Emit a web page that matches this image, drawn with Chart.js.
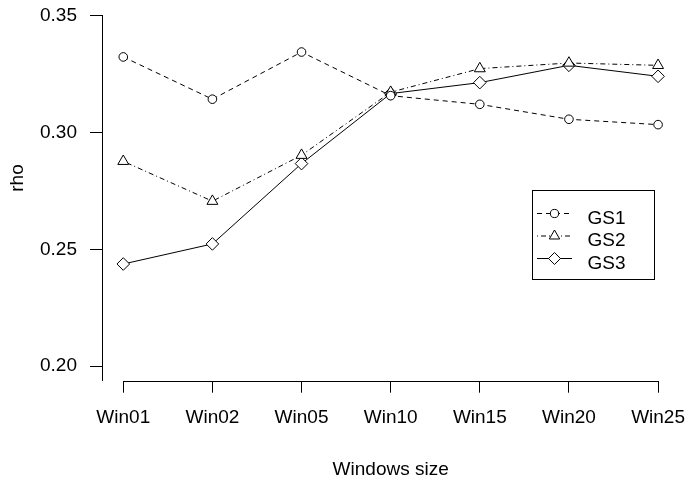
<!DOCTYPE html>
<html>
<head>
<meta charset="utf-8">
<script src="https://cdn.jsdelivr.net/npm/chart.js@4/dist/chart.umd.min.js"></script>
<style>
  html, body { margin: 0; padding: 0; background: #fff; }
  #wrap { width: 699px; height: 482px; }
</style>
</head>
<body>
<div id="wrap"><canvas id="c" width="699" height="482"></canvas></div>
<script>
// ---- data ----
const categories = ["Win01", "Win02", "Win05", "Win10", "Win15", "Win20", "Win25"];
const gs1 = [0.3324, 0.3143, 0.3345, 0.3158, 0.3121, 0.3057, 0.3034];
const gs2 = [0.2877, 0.2706, 0.2903, 0.3173, 0.3274, 0.3298, 0.3288];
const gs3 = [0.2437, 0.2523, 0.2867, 0.3167, 0.3214, 0.3288, 0.3241];
const seriesNames = ["GS1", "GS2", "GS3"];
const yTicks = [0.20, 0.25, 0.30, 0.35];
const xTitle = "Windows size";
const yTitle = "rho";

const FONT = "'Liberation Sans', Arial, Helvetica, sans-serif";
const FS = 19;

function pts(arr) { return arr.map((v, i) => ({ x: i, y: v })); }

const datasets = [
  { label: seriesNames[0], data: pts(gs1), borderDash: [5, 4], pointStyle: 'circle', pointRadius: 4.3 },
  { label: seriesNames[1], data: pts(gs2), borderDash: [1, 3, 5, 3], pointStyle: 'triangle', pointRadius: 6.3 },
  { label: seriesNames[2], data: pts(gs3), borderDash: [], pointStyle: 'rectRot', pointRadius: 6.3 }
].map(d => Object.assign({
  borderColor: '#000', borderWidth: 1, backgroundColor: 'rgba(0,0,0,0)',
  pointBackgroundColor: '#fff', pointBorderColor: '#000', pointBorderWidth: 1,
  pointHoverRadius: d.pointRadius, tension: 0, fill: false, clip: false
}, d));

const extras = {
  id: 'extras',
  afterDraw(chart) {
    const ctx = chart.ctx;
    const xs = chart.scales.x;
    const area = chart.chartArea;
    ctx.save();
    // x axis line from first to last category
    ctx.strokeStyle = '#000';
    ctx.lineWidth = 1;
    ctx.beginPath();
    const yb = Math.round(area.bottom) + 0.5;
    ctx.moveTo(Math.round(xs.getPixelForValue(0)) + 0.5, yb);
    ctx.lineTo(Math.round(xs.getPixelForValue(categories.length - 1)) + 0.5, yb);
    ctx.stroke();

    // axis titles
    ctx.fillStyle = '#000';
    ctx.font = FS + 'px ' + FONT;
    ctx.textAlign = 'center';
    ctx.textBaseline = 'alphabetic';
    ctx.fillText(xTitle, xs.getPixelForValue((categories.length - 1) / 2), 475);
    ctx.save();
    ctx.translate(23, 178);
    ctx.rotate(-Math.PI / 2);
    ctx.fillText(yTitle, 0, 0);
    ctx.restore();

    // legend
    const bx = 532.5, by = 190.5, bw = 122, bh = 89;
    ctx.strokeStyle = '#000';
    ctx.lineWidth = 1;
    ctx.strokeRect(bx, by, bw, bh);
    const rowY = [213.5, 236, 258.5];
    chart.data.datasets.forEach((ds, i) => {
      const y = rowY[i];
      ctx.save();
      ctx.strokeStyle = ds.borderColor;
      ctx.lineWidth = ds.borderWidth;
      ctx.setLineDash(ds.borderDash || []);
      ctx.beginPath();
      ctx.moveTo(537, y);
      ctx.lineTo(572, y);
      ctx.stroke();
      ctx.restore();
      ctx.save();
      ctx.fillStyle = '#fff';
      ctx.strokeStyle = '#000';
      ctx.lineWidth = 1;
      ctx.setLineDash([]);
      Chart.helpers.drawPoint(ctx, {
        pointStyle: ds.pointStyle, radius: ds.pointRadius * 0.95, borderWidth: 1, rotation: 0
      }, 554.5, y);
      ctx.restore();
      ctx.fillStyle = '#000';
      ctx.font = FS + 'px ' + FONT;
      ctx.textAlign = 'left';
      ctx.textBaseline = 'alphabetic';
      ctx.fillText(ds.label, 587.5, y + 10);
    });
    ctx.restore();
  }
};

new Chart(document.getElementById('c'), {
  type: 'line',
  data: { datasets },
  options: {
    responsive: false,
    animation: false,
    events: [],
    layout: { padding: { left: 0, top: 13, right: 29.7, bottom: 0 } },
    plugins: { legend: { display: false }, tooltip: { enabled: false }, title: { display: false } },
    scales: {
      x: {
        type: 'linear',
        min: -0.2386,
        max: categories.length - 1,
        afterFit(scale) { scale.height = 101.3; },
        afterBuildTicks(scale) { scale.ticks = categories.map((c, i) => ({ value: i })); },
        border: { display: false },
        grid: { display: true, drawOnChartArea: false, drawTicks: true, tickLength: 12, color: '#000', lineWidth: 1 },
        ticks: {
          autoSkip: false, maxRotation: 0, padding: 14, color: '#000',
          font: { family: FONT, size: FS },
          callback: (v) => categories[v] !== undefined ? categories[v] : ''
        }
      },
      y: {
        type: 'linear',
        min: 0.19371,
        max: 0.35,
        afterFit(scale) { scale.width = 102; },
        afterBuildTicks(scale) { scale.ticks = yTicks.map(v => ({ value: v })); },
        border: { display: true, color: '#000', width: 1 },
        grid: { display: true, drawOnChartArea: false, drawTicks: true, tickLength: 12, color: '#000', lineWidth: 1 },
        ticks: {
          padding: 13, color: '#000',
          font: { family: FONT, size: FS, lineHeight: 0.3 },
          callback: (v) => Number(v).toFixed(2)
        }
      }
    }
  },
  plugins: [extras]
});
</script>
</body>
</html>
